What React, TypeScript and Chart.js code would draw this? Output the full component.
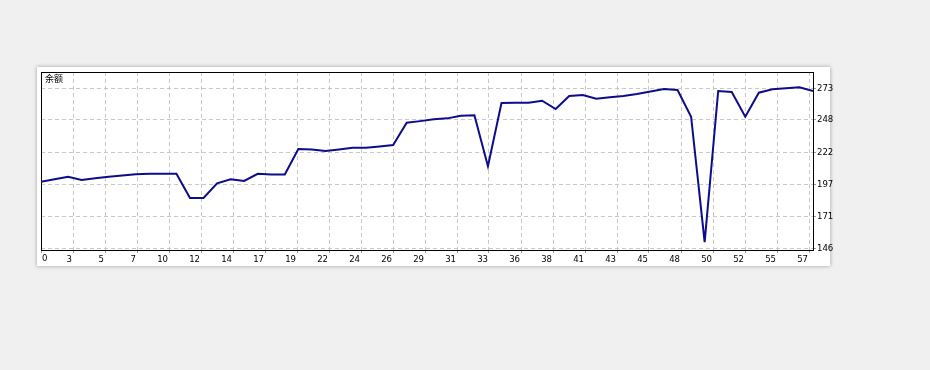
import React, { useEffect, useRef } from 'react';
import { Chart, registerables } from 'chart.js';

Chart.register(...registerables);

// Balance after each trade (trade number = index)
const balanceValues: number[] = [
  199, 201, 203, 200.3, 201.7, 203, 204, 205, 205.3, 205.3,
  205.3, 186.1, 186.1, 197.7, 201, 199.6, 205.3, 204.8, 204.8, 225,
  224.6, 223.3, 224.6, 226, 226, 227, 228.2, 245.8, 247.1, 248.5,
  249.3, 251.4, 251.7, 211.3, 261.5, 261.7, 261.7, 263.3, 256.7, 267,
  267.8, 264.9, 266, 267, 268.6, 270.7, 272.6, 271.8, 250.6, 151.1,
  271, 270.2, 250.6, 269.7, 272.4, 273.2, 274, 271,
];

const xTickLabels: string[] = [
  '0', '3', '5', '7', '10', '12', '14', '17', '19', '22', '24', '26', '29',
  '31', '33', '36', '38', '41', '43', '45', '48', '50', '52', '55', '57',
];

const yTickLabels: string[] = ['146', '171', '197', '222', '248', '273'];

const seriesLabel = '余额';

const Y_MIN = 144.8;
const Y_MAX = 286.1;

const TICK_FONT = {
  family: "'Liberation Sans Narrow', 'DejaVu Sans Condensed', 'Liberation Sans', sans-serif",
  size: 9.5,
};

export default function App() {
  const ref = useRef<HTMLCanvasElement>(null);

  useEffect(() => {
    const canvas = ref.current;
    if (!canvas) return;
    const xMax = balanceValues.length - 1;
    // grid cells are 32px wide on a 772px wide plot
    const xStep = (32 * xMax) / 772;

    const framePlugin = {
      id: 'frame',
      beforeDatasetsDraw(chart: any) {
        const { ctx, chartArea: a } = chart;
        ctx.save();
        ctx.strokeStyle = '#000';
        ctx.lineWidth = 1;
        ctx.setLineDash([]);
        ctx.strokeRect(a.left + 0.5, a.top + 0.5, a.right - a.left, a.bottom - a.top);
        ctx.restore();
      },
      afterDraw(chart: any) {
        const { ctx, chartArea: a } = chart;
        ctx.save();
        ctx.font = `${TICK_FONT.size}px ${TICK_FONT.family}`;
        ctx.fillStyle = '#000';
        ctx.textAlign = 'left';
        ctx.textBaseline = 'top';
        ctx.fillText(xTickLabels[0], a.left + 1, a.bottom + 3 + 1);
        ctx.restore();
      },
    };

    const chart = new Chart(canvas, {
      type: 'line',
      data: {
        datasets: [
          {
            label: seriesLabel,
            data: balanceValues.map((v, i) => ({ x: i, y: v })),
            borderColor: '#0c0c8c',
            borderWidth: 2,
            pointRadius: 0,
            tension: 0,
            fill: false,
          },
        ],
      },
      options: {
        responsive: false,
        devicePixelRatio: 1,
        animation: false,
        layout: { padding: { left: 41, top: 72, right: 97, bottom: 102 } },
        plugins: { legend: { display: false }, tooltip: { enabled: false } },
        scales: {
          x: {
            type: 'linear',
            min: 0,
            max: xMax,
            afterBuildTicks: (scale: any) => {
              scale.ticks = xTickLabels.map((_, k) => ({ value: k * xStep }));
            },
            afterFit: (scale: any) => {
              scale.height = 18;
              scale.paddingLeft = 0;
              scale.paddingRight = 0;
            },
            ticks: {
              autoSkip: false,
              maxRotation: 0,
              align: 'end',
              padding: 1,
              labelOffset: -1,
              color: '#000',
              font: TICK_FONT,
              callback: (_v: any, i: number) => (i === 0 ? '' : xTickLabels[i]),
            },
            grid: {
              color: '#c8c8c8',
              lineWidth: 1,
              drawTicks: true,
              tickLength: 3,
              tickColor: '#9a9a9a',
            },
            border: { display: false, dash: [4, 3] },
          },
          y: {
            type: 'linear',
            position: 'right',
            min: Y_MIN,
            max: Y_MAX,
            afterBuildTicks: (scale: any) => {
              scale.ticks = yTickLabels.map((l) => ({ value: Number(l) }));
            },
            afterFit: (scale: any) => {
              scale.width = 20;
              scale.paddingTop = 0;
              scale.paddingBottom = 0;
            },
            ticks: {
              autoSkip: false,
              padding: 1,
              color: '#000',
              font: TICK_FONT,
              callback: (_v: any, i: number) => yTickLabels[i],
            },
            grid: {
              color: '#c8c8c8',
              lineWidth: 1,
              drawTicks: true,
              tickLength: 3,
              tickColor: '#9a9a9a',
            },
            border: { display: false, dash: [4, 3] },
          },
        },
      },
      plugins: [framePlugin],
    } as any);

    return () => chart.destroy();
  }, []);

  return (
    <div
      style={{
        position: 'fixed',
        left: 0,
        top: 0,
        width: 930,
        height: 370,
        background: '#f0f0f0',
        overflow: 'hidden',
      }}
    >
      <div
        style={{
          position: 'absolute',
          left: 37,
          top: 67,
          width: 793,
          height: 199,
          background: '#fff',
          boxShadow: '0 0 4px rgba(0,0,0,0.35)',
        }}
      />
      <canvas
        ref={ref}
        width={930}
        height={370}
        style={{ position: 'absolute', left: 0, top: 0, width: 930, height: 370 }}
      />
      <div
        style={{
          position: 'absolute',
          left: 45,
          top: 74,
          fontSize: 9,
          lineHeight: '10px',
          fontFamily: "'Noto Sans CJK SC', sans-serif",
          color: '#000',
        }}
      >
        {seriesLabel}
      </div>
    </div>
  );
}
